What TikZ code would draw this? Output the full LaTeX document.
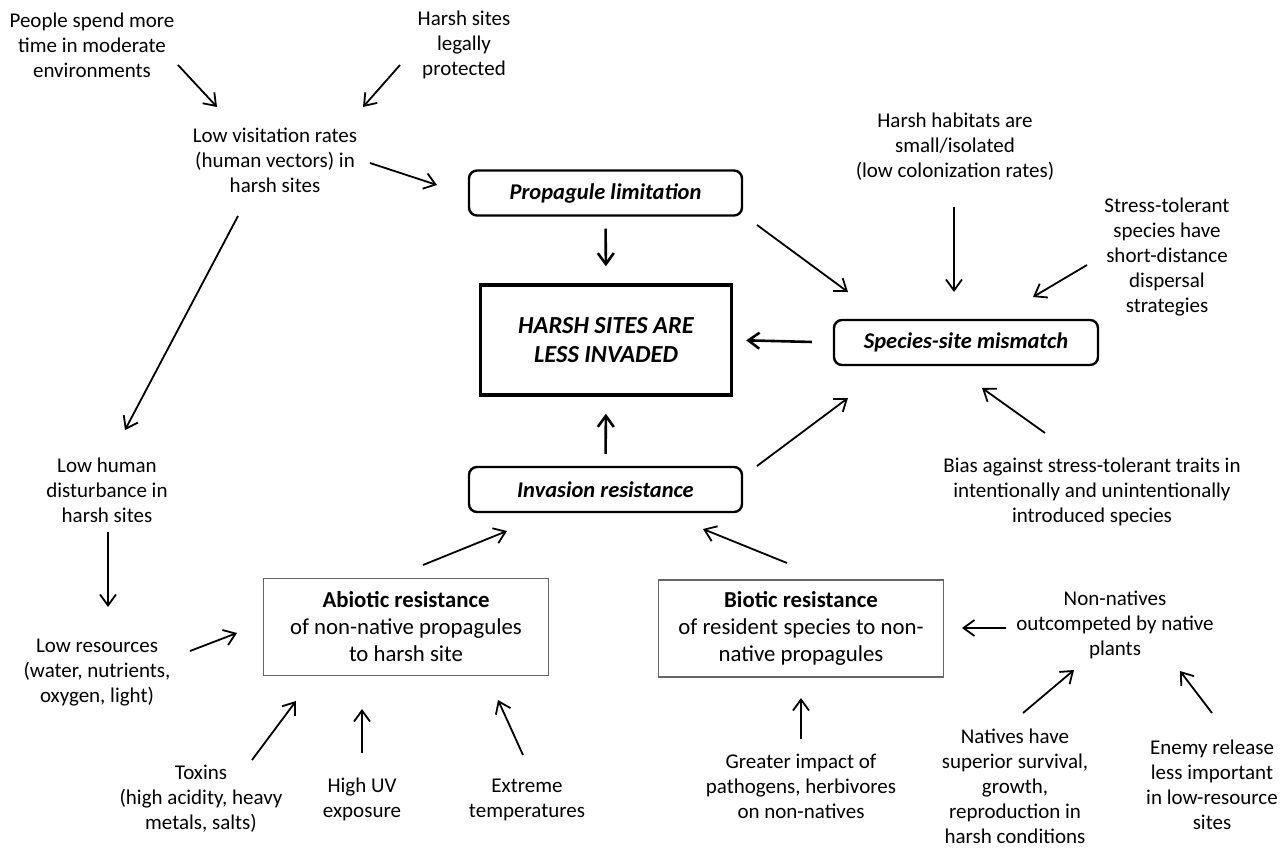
\documentclass[tikz,border=0pt]{standalone}
\usepackage{fontspec}
\setmainfont{Carlito}
\usetikzlibrary{arrows.meta}
\tikzset{
	txt/.style={align=center, inner sep=0pt, font=\fontsize{21}{25}\selectfont},
	keybox/.style={draw, rounded corners=8pt, line width=2.4pt, minimum width=273pt, minimum height=45pt, inner sep=0pt, font=\fontsize{22.5}{26}\selectfont\bfseries\itshape},
	goalbox/.style={draw, line width=3.4pt, minimum width=251pt, minimum height=110pt, inner sep=0pt, align=center, font=\fontsize{24.5}{29}\selectfont\bfseries\itshape},
	resbox/.style={draw=black!60, line width=1.3pt, minimum width=285pt, minimum height=97pt, inner sep=0pt, align=center, font=\fontsize{22.8}{27}\selectfont},
	arr/.style={-{Straight Barb[length=11pt, width=16pt]}, line width=1.8pt},
	bigarr/.style={arr, line width=2.6pt}
}

\begin{document}
\begin{tikzpicture}[x=1pt, y=-1pt]
		\useasboundingbox[fill=white] (0, 0) rectangle (1288, 849);

		\node[txt] (people) at (92, 45) {People spend more\\time in moderate\\environments};
		\node[txt] (legal) at (464, 45) {Harsh sites\\legally\\protected};
		\node[txt] (visits) at (275, 160) {Low visitation rates\\(human vectors) in\\harsh sites};
		\node[txt] (habitats) at (955, 147) {Harsh habitats are\\small/isolated\\(low colonization rates)};
		\node[txt] (dispersal) at (1167, 257) {Stress-tolerant\\species have\\short-distance\\dispersal\\strategies};
		\node[txt] (bias) at (1092, 492) {Bias against stress-tolerant traits in\\intentionally and unintentionally\\introduced species};
		\node[txt] (disturb) at (107, 490) {Low human\\disturbance in\\harsh sites};
		\node[txt] (resources) at (97, 673) {Low resources\\(water, nutrients,\\oxygen, light)};
		\node[txt] (outcomp) at (1115, 625) {Non-natives\\outcompeted by native\\plants};
		\node[txt] (toxins) at (201, 799) {Toxins\\(high acidity, heavy\\metals, salts)};
		\node[txt] (uv) at (362, 799.5) {High UV\\exposure};
		\node[txt] (extreme) at (527, 799.5) {Extreme\\temperatures};
		\node[txt] (impact) at (801, 786) {Greater impact of\\pathogens, herbivores\\on non-natives};
		\node[txt] (survival) at (1015, 786.5) {Natives have\\superior survival,\\growth,\\reproduction in\\harsh conditions};
		\node[txt] (release) at (1212, 784.5) {Enemy release\\less important\\in low-resource\\sites};

		\node[keybox] (proplim) at (605.5, 193) {Propagule limitation};
		\node[goalbox] (harsh) at (606, 340) {HARSH SITES ARE\\LESS INVADED};
		\node[keybox, minimum width=264pt] (mismatch) at (966, 342.5) {Species-site mismatch};
		\node[keybox] (invres) at (605.5, 489.5) {Invasion resistance};
		\node[resbox] (abiotic) at (406, 627) {\textbf{Abiotic resistance}\\of non-native propagules\\to harsh site};
		\node[resbox] (biotic) at (801, 628.5) {\textbf{Biotic resistance}\\of resident species to non-\\native propagules};

		\draw[arr] ([shift={(86, 20)}]people.center) to ([shift={(-58, -53)}]visits.center);
		\draw[arr] ([shift={(-64, 20)}]legal.center) to ([shift={(88, -53)}]visits.center);
		\draw[arr] ([shift={(95, 3)}]visits.center) to ([shift={(-168.5, -8)}]proplim.center);
		\draw[arr] ([shift={(-37, 56)}]visits.center) to ([shift={(18, -60)}]disturb.center);
		\draw[bigarr, shorten <=12pt, shorten >=17pt] (proplim.south) to (harsh.north);
		\draw[arr] ([shift={(151.5, 32)}]proplim.center) to ([shift={(-118, -50.5)}]mismatch.center);
		\draw[bigarr, shorten <=21pt, shorten >=13pt] (mismatch.west) to (harsh.east);
		\draw[arr] ([shift={(-1, 60)}]habitats.center) to ([shift={(-12, -50.5)}]mismatch.center);
		\draw[arr] ([shift={(-80, 8)}]dispersal.center) to ([shift={(67, -45.5)}]mismatch.center);
		\draw[bigarr, shorten <=12pt, shorten >=17pt] (invres.north) to (harsh.south);
		\draw[arr] ([shift={(151.5, -23.5)}]invres.center) to ([shift={(-118, 55.5)}]mismatch.center);
		\draw[arr] ([shift={(-47, -59)}]bias.center) to ([shift={(16, 45.5)}]mismatch.center);
		\draw[arr] ([shift={(1, 42)}]disturb.center) to ([shift={(11, -66)}]resources.center);
		\draw[arr] ([shift={(93, -22)}]resources.center) to ([shift={(-169, 6)}]abiotic.center);
		\draw[arr] ([shift={(17, -62)}]abiotic.center) to ([shift={(-98.5, 41.5)}]invres.center);
		\draw[arr] ([shift={(-14, -65.5)}]biotic.center) to ([shift={(97.5, 39.5)}]invres.center);
		\draw[arr] ([shift={(51, -39)}]toxins.center) to ([shift={(-110, 74)}]abiotic.center);
		\draw[arr] ([shift={(0, -46.5)}]uv.center) to ([shift={(-44, 82)}]abiotic.center);
		\draw[arr] ([shift={(-4, -44.5)}]extreme.center) to ([shift={(92, 73)}]abiotic.center);
		\draw[arr] ([shift={(0, -47)}]impact.center) to ([shift={(0, 69.5)}]biotic.center);
		\draw[arr] ([shift={(-109, 3)}]outcomp.center) to ([shift={(161, -0.5)}]biotic.center);
		\draw[arr] ([shift={(8, -73.5)}]survival.center) to ([shift={(-41, 45)}]outcomp.center);
		\draw[arr] ([shift={(0, -71.5)}]release.center) to ([shift={(65, 46)}]outcomp.center);
\end{tikzpicture}
\end{document}
